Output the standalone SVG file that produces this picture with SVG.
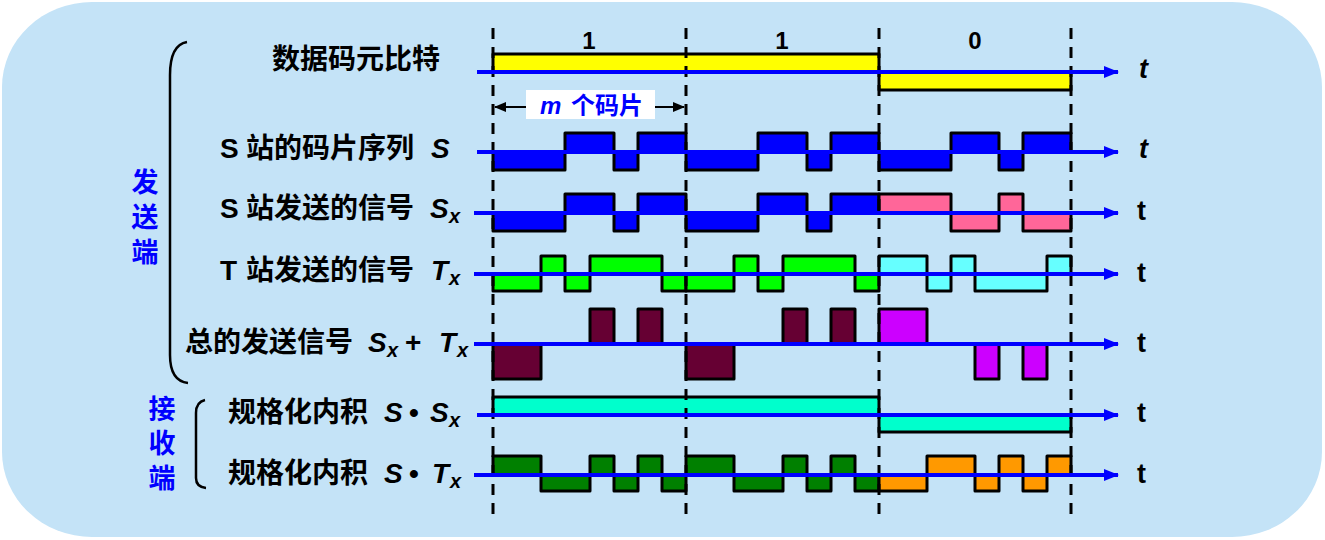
<svg xmlns="http://www.w3.org/2000/svg" width="1325" height="540" viewBox="0 0 1325 540">
<style>
.lbl{font-family:"Liberation Sans","Noto Sans CJK SC",sans-serif;font-weight:bold;font-size:28px;fill:#000}
.it{font-style:italic}
.sub{font-style:italic;font-size:20px}
.side{font-family:"Noto Sans CJK SC",sans-serif;font-weight:bold;font-size:27px;fill:#0000FF;writing-mode:vertical-rl;text-orientation:upright}
.bit{font-family:"Liberation Sans",sans-serif;font-weight:bold;font-size:24px;text-anchor:middle}
.tl{font-family:"Liberation Sans",sans-serif;font-weight:bold;font-size:27px}
.blk rect{stroke:#000;stroke-width:3;stroke-linejoin:round}
.axis{stroke:#0000FF;stroke-width:4;fill:none}
.dash{stroke:#000;stroke-width:3;stroke-dasharray:11 8}
.brace{fill:none;stroke:#000;stroke-width:2.5}
</style>
<defs>
<marker id="ah" markerUnits="userSpaceOnUse" markerWidth="16" markerHeight="12" refX="14" refY="6" orient="auto">
<path d="M0,0 L15,6 L0,12 Z" fill="#0000FF"/>
</marker>
<marker id="ak" markerUnits="userSpaceOnUse" markerWidth="12" markerHeight="10" refX="11" refY="5" orient="auto">
<path d="M0,0 L12,5 L0,10 Z" fill="#000"/>
</marker>
</defs>
<rect x="2" y="2" width="1320" height="535" rx="90" ry="85" fill="#C4E3F7"/>

<g id="bit-labels">
<text class="bit" x="589" y="49">1</text>
<text class="bit" x="782" y="49">1</text>
<text class="bit" x="975" y="49">0</text>
</g>

<g id="side-labels">
<path class="brace" d="M187,42 Q170,45 170,75 L170,355 Q170,381 188,383"/>
<path class="brace" d="M205,400 Q196,402 196,413 L196,478 Q196,487 206,488"/>
<text class="side" x="145" y="168" letter-spacing="8">发送端</text>
<text class="side" x="162" y="395" letter-spacing="7.5">接收端</text>
</g>

<g id="row-labels">
<text class="lbl" x="272" y="69">数据码元比特</text>
<text class="lbl" y="158"><tspan x="220">S</tspan><tspan x="246">站的码片序列</tspan><tspan x="431" class="it">S</tspan></text>
<text class="lbl" y="218"><tspan x="220">S</tspan><tspan x="246">站发送的信号</tspan><tspan x="430" class="it">S</tspan><tspan x="449" y="223" class="sub">x</tspan></text>
<text class="lbl" y="280"><tspan x="220">T</tspan><tspan x="246">站发送的信号</tspan><tspan x="431" class="it">T</tspan><tspan x="449" y="285" class="sub">x</tspan></text>
<text class="lbl" y="352"><tspan x="185">总的发送信号</tspan><tspan x="368" class="it">S</tspan><tspan x="387" y="357" class="sub">x</tspan><tspan x="405" y="352">+</tspan><tspan x="439" class="it">T</tspan><tspan x="457" y="357" class="sub">x</tspan></text>
<text class="lbl" y="422"><tspan x="228">规格化内积</tspan><tspan x="384" class="it">S</tspan><tspan x="409">•</tspan><tspan x="430" class="it">S</tspan><tspan x="449" y="427" class="sub">x</tspan></text>
<text class="lbl" y="483"><tspan x="228">规格化内积</tspan><tspan x="384" class="it">S</tspan><tspan x="409">•</tspan><tspan x="432" class="it">T</tspan><tspan x="450" y="488" class="sub">x</tspan></text>
</g>

<g id="waveforms" class="blk">
<g id="data" fill="#FFFF00">
<rect x="493" y="54" width="386" height="18"/>
<rect x="879" y="72" width="192" height="18"/>
</g>
<g id="chipS" fill="#0000FF">
<rect x="493" y="152" width="72" height="18"/><rect x="565" y="133" width="49" height="19"/><rect x="614" y="152" width="24" height="18"/><rect x="638" y="133" width="48" height="19"/>
<rect x="686" y="152" width="72" height="18"/><rect x="758" y="133" width="49" height="19"/><rect x="807" y="152" width="24" height="18"/><rect x="831" y="133" width="48" height="19"/>
<rect x="879" y="152" width="72" height="18"/><rect x="951" y="133" width="48" height="19"/><rect x="999" y="152" width="24" height="18"/><rect x="1023" y="133" width="48" height="19"/>
</g>
<g id="sigSx" fill="#0000FF">
<rect x="493" y="213" width="72" height="18"/><rect x="565" y="194" width="49" height="19"/><rect x="614" y="213" width="24" height="18"/><rect x="638" y="194" width="48" height="19"/>
<rect x="686" y="213" width="72" height="18"/><rect x="758" y="194" width="49" height="19"/><rect x="807" y="213" width="24" height="18"/><rect x="831" y="194" width="48" height="19"/>
</g>
<g fill="#FF6699">
<rect x="879" y="194" width="72" height="19"/><rect x="951" y="213" width="48" height="18"/><rect x="999" y="194" width="24" height="19"/><rect x="1023" y="213" width="48" height="18"/>
</g>
<g id="sigTx" fill="#00FF00">
<rect x="493" y="274" width="48" height="17"/><rect x="541" y="256" width="24" height="18"/><rect x="565" y="274" width="25" height="17"/><rect x="590" y="256" width="72" height="18"/><rect x="662" y="274" width="24" height="17"/>
<rect x="686" y="274" width="48" height="17"/><rect x="734" y="256" width="24" height="18"/><rect x="758" y="274" width="25" height="17"/><rect x="783" y="256" width="72" height="18"/><rect x="855" y="274" width="24" height="17"/>
</g>
<g fill="#66FFFF">
<rect x="879" y="256" width="48" height="18"/><rect x="927" y="274" width="24" height="17"/><rect x="951" y="256" width="24" height="18"/><rect x="975" y="274" width="72" height="17"/><rect x="1047" y="256" width="24" height="18"/>
</g>
<g id="sum" fill="#660033">
<rect x="493" y="344" width="48" height="35"/><rect x="590" y="309" width="24" height="35"/><rect x="638" y="309" width="24" height="35"/>
<rect x="686" y="344" width="48" height="35"/><rect x="783" y="309" width="24" height="35"/><rect x="831" y="309" width="24" height="35"/>
</g>
<g fill="#CC00FF">
<rect x="879" y="309" width="48" height="35"/><rect x="975" y="344" width="24" height="35"/><rect x="1023" y="344" width="24" height="35"/>
</g>
<g id="dotSx" fill="#00FFCC">
<rect x="493" y="397" width="386" height="18"/>
<rect x="879" y="415" width="192" height="17"/>
</g>
<g id="dotTx" fill="#008000">
<rect x="493" y="456" width="48" height="19"/><rect x="541" y="475" width="49" height="16"/><rect x="590" y="456" width="24" height="19"/><rect x="614" y="475" width="24" height="16"/><rect x="638" y="456" width="24" height="19"/><rect x="662" y="475" width="24" height="16"/>
<rect x="686" y="456" width="48" height="19"/><rect x="734" y="475" width="49" height="16"/><rect x="783" y="456" width="24" height="19"/><rect x="807" y="475" width="24" height="16"/><rect x="831" y="456" width="24" height="19"/><rect x="855" y="475" width="24" height="16"/>
</g>
<g fill="#FF9900">
<rect x="879" y="475" width="48" height="16"/><rect x="927" y="456" width="48" height="19"/><rect x="975" y="475" width="24" height="16"/><rect x="999" y="456" width="24" height="19"/><rect x="1023" y="475" width="24" height="16"/><rect x="1047" y="456" width="24" height="19"/>
</g>
</g>

<g id="bit-boundaries">
<line class="dash" x1="493" y1="28" x2="493" y2="518"/>
<line class="dash" x1="686" y1="28" x2="686" y2="518"/>
<line class="dash" x1="879" y1="28" x2="879" y2="518"/>
<line class="dash" x1="1071" y1="28" x2="1071" y2="518"/>
</g>

<g id="chip-span">
<rect x="526" y="90" width="129" height="29" fill="#FFFFFF"/>
<line x1="526" y1="107" x2="495" y2="107" stroke="#000" stroke-width="2" marker-end="url(#ak)"/>
<line x1="655" y1="107" x2="684" y2="107" stroke="#000" stroke-width="2" marker-end="url(#ak)"/>
<text y="114" style="font-family:'Liberation Sans','Noto Sans CJK SC',sans-serif;font-weight:bold;font-size:24px;fill:#0000FF"><tspan x="540" font-style="italic">m</tspan><tspan x="571">个码片</tspan></text>
</g>

<g id="connectors">
<line class="axis" x1="477" y1="72" x2="1118" y2="72" marker-end="url(#ah)"/>
<line class="axis" x1="477" y1="152" x2="1118" y2="152" marker-end="url(#ah)"/>
<line class="axis" x1="474" y1="213" x2="1118" y2="213" marker-end="url(#ah)"/>
<line class="axis" x1="474" y1="274" x2="1118" y2="274" marker-end="url(#ah)"/>
<line class="axis" x1="474" y1="344" x2="1118" y2="344" marker-end="url(#ah)"/>
<line class="axis" x1="477" y1="415" x2="1118" y2="415" marker-end="url(#ah)"/>
<line class="axis" x1="474" y1="475" x2="1118" y2="475" marker-end="url(#ah)"/>
</g>

<g id="time-labels">
<text class="tl it" x="1139" y="78">t</text>
<text class="tl it" x="1139" y="158">t</text>
<text class="tl" x="1137" y="220">t</text>
<text class="tl" x="1137" y="282">t</text>
<text class="tl" x="1137" y="352">t</text>
<text class="tl" x="1137" y="422">t</text>
<text class="tl" x="1137" y="483">t</text>
</g>
</svg>
